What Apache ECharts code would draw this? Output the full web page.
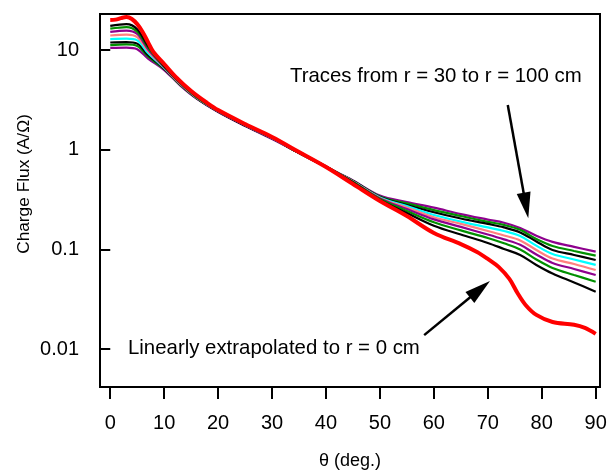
<!DOCTYPE html>
<html>
<head>
<meta charset="utf-8">
<script src="https://cdn.jsdelivr.net/npm/echarts@6/dist/echarts.min.js"></script>
<style>html,body{margin:0;padding:0;background:#fff}#c{width:607px;height:474px}</style>
</head>
<body>
<div id="c"></div>
<script>
// ---- data ----
const thetaTraces = [0,3,5,7,10,13,16,20,25,30,35,40,45,50,55,60,65,70,73,76,79,82,86,90];
const r30  = [17.5,18.2,16.2,10.97,6.91,4.72,3.42,2.47,1.79,1.33,0.948,0.678,0.469,0.313,0.232,0.173,0.141,0.116,0.101,0.0879,0.0698,0.0573,0.0466,0.0376];
const r40  = [16.4,17.0,15.3,10.6,6.83,4.67,3.38,2.47,1.79,1.33,0.948,0.678,0.474,0.320,0.243,0.187,0.155,0.130,0.115,0.0998,0.0792,0.0651,0.0553,0.0474];
const r50  = [15.2,15.7,14.5,10.2,6.75,4.61,3.38,2.44,1.77,1.31,0.937,0.678,0.474,0.324,0.254,0.200,0.168,0.141,0.126,0.111,0.0889,0.0730,0.0636,0.0553];
const r60  = [14.0,14.3,13.5,9.77,6.67,4.56,3.34,2.44,1.77,1.31,0.937,0.678,0.480,0.328,0.263,0.210,0.180,0.153,0.138,0.123,0.0986,0.0810,0.0714,0.0621];
const r70  = [12.9,13.0,12.5,9.33,6.60,4.56,3.34,2.44,1.77,1.31,0.937,0.678,0.480,0.332,0.272,0.221,0.190,0.166,0.153,0.136,0.109,0.0899,0.0792,0.0698];
const r80  = [11.9,12.0,11.6,8.91,6.52,4.51,3.30,2.42,1.75,1.30,0.927,0.671,0.485,0.335,0.279,0.236,0.204,0.180,0.166,0.148,0.120,0.0986,0.0879,0.0783];
const r90  = [11.2,11.4,11.0,8.61,6.45,4.46,3.30,2.42,1.75,1.30,0.927,0.671,0.485,0.339,0.289,0.248,0.216,0.189,0.176,0.157,0.127,0.108,0.0964,0.0865];
const r100 = [10.5,10.6,10.2,8.22,6.30,4.40,3.26,2.39,1.73,1.28,0.927,0.671,0.491,0.347,0.299,0.262,0.226,0.199,0.185,0.164,0.137,0.119,0.106,0.0948];

const thetaRed = [0,1,2,3,4,5,6,7,8,10,12,15,18,20,25,30,35,40,45,50,55,60,65,68,70,72,74,75.5,77,79,82,86,88,90];
const r0 = [20.0,20.2,20.9,21.4,20.5,18.2,15.2,12.0,9.55,7.24,5.48,3.88,2.94,2.50,1.81,1.34,0.948,0.670,0.453,0.306,0.216,0.146,0.113,0.0942,0.0802,0.0667,0.0505,0.0365,0.0277,0.0220,0.0187,0.0175,0.0163,0.0142];

const xTicks = [0,10,20,30,40,50,60,70,80,90];
const yTicks = [0.01,0.1,1,10];

const traces = [
  {name:'r = 100 cm', data:r100, color:'#8e008e'},
  {name:'r = 90 cm',  data:r90,  color:'#009000'},
  {name:'r = 80 cm',  data:r80,  color:'#000000'},
  {name:'r = 70 cm',  data:r70,  color:'#00ffff'},
  {name:'r = 60 cm',  data:r60,  color:'#ff8080'},
  {name:'r = 50 cm',  data:r50,  color:'#8e008e'},
  {name:'r = 40 cm',  data:r40,  color:'#009000'},
  {name:'r = 30 cm',  data:r30,  color:'#000000'}
];

// annotation arrows: [start, tip] in data coordinates
const arrowTraces = [[73.7, 2.81], [77.5, 0.205]];
const arrowRed = [[58.2, 0.0138], [70.4, 0.0482]];

const FONT = 'Liberation Sans, Arial, Helvetica, sans-serif';

const series = traces.map(t => ({
  name: t.name, type: 'line', smooth: 0.35, symbol: 'none',
  data: thetaTraces.map((x,i) => [x, t.data[i]]),
  lineStyle: {color: t.color, width: 2.2}, itemStyle:{color:t.color}
}));
series.push({
  name: 'r = 0 cm', type: 'line', smooth: 0.35, symbol: 'none',
  data: thetaRed.map((x,i) => [x, r0[i]]),
  lineStyle: {color: '#ff0000', width: 4}, itemStyle:{color:'#ff0000'}
});

const chart = echarts.init(document.getElementById('c'), null, {renderer: 'canvas'});
chart.setOption({
  animation: false,
  backgroundColor: '#fff',
  grid: {left: 100, top: 14, right: 7, bottom: 87, show: true, borderColor: '#000', borderWidth: 2,
         backgroundColor: 'transparent', containLabel: false, outerBoundsMode: 'none'},
  xAxis: {
    type: 'value', min: -1.9, max: 90.8,
    name: 'θ (deg.)', nameLocation: 'middle', nameGap: 65,
    nameTextStyle: {fontSize: 18, color: '#000', fontFamily: FONT},
    axisLine: {show: false},
    splitLine: {show: false},
    axisTick: {show: true, inside: false, length: 12, customValues: xTicks, lineStyle: {color: '#000', width: 2}},
    axisLabel: {customValues: xTicks, fontSize: 20, color: '#000', fontFamily: FONT, margin: 26}
  },
  yAxis: {
    type: 'log', logBase: 10, min: 0.00416, max: 23,
    axisLine: {show: false},
    splitLine: {show: false},
    minorTick: {show: false},
    axisTick: {show: true, inside: false, length: 11, customValues: yTicks, lineStyle: {color: '#000', width: 2}},
    axisLabel: {customValues: yTicks, fontSize: 20, color: '#000', fontFamily: FONT, margin: 21,
      padding: [4, 0, 0, 0],
      formatter: v => String(+v.toPrecision(6))}
  },
  series: series
});

function arrowGraphics(id, a) {
  const p0 = chart.convertToPixel({gridIndex: 0}, a[0]);
  const p1 = chart.convertToPixel({gridIndex: 0}, a[1]);
  const dx = p1[0] - p0[0], dy = p1[1] - p0[1];
  const L = Math.hypot(dx, dy), ux = dx / L, uy = dy / L;
  const headL = 26, headW = 7;
  const bx = p1[0] - ux * headL, by = p1[1] - uy * headL;
  return [
    {type: 'line', id: id + 'l', shape: {x1: p0[0], y1: p0[1], x2: bx + ux * 2, y2: by + uy * 2},
     style: {stroke: '#000', lineWidth: 2.5}, z: 100},
    {type: 'polygon', id: id + 'h', shape: {points: [[p1[0], p1[1]], [bx - uy * headW, by + ux * headW], [bx + uy * headW, by - ux * headW]]},
     style: {fill: '#000'}, z: 100}
  ];
}

chart.setOption({
  graphic: [
    {type: 'text', id: 'yname', x: 24, y: 184, rotation: Math.PI / 2,
     style: {text: 'Charge Flux (A/Ω)', font: '17.3px ' + FONT, fill: '#000', align: 'center', verticalAlign: 'middle'}},
    {type: 'text', id: 't1', left: 290, top: 66, style: {text: 'Traces from r = 30 to r = 100 cm', font: '20.4px ' + FONT, fill: '#000'}},
    {type: 'text', id: 't2', left: 128, top: 338, style: {text: 'Linearly extrapolated to r = 0 cm', font: '20.4px ' + FONT, fill: '#000'}}
  ].concat(arrowGraphics('a1', arrowTraces), arrowGraphics('a2', arrowRed))
});
</script>
</body>
</html>
